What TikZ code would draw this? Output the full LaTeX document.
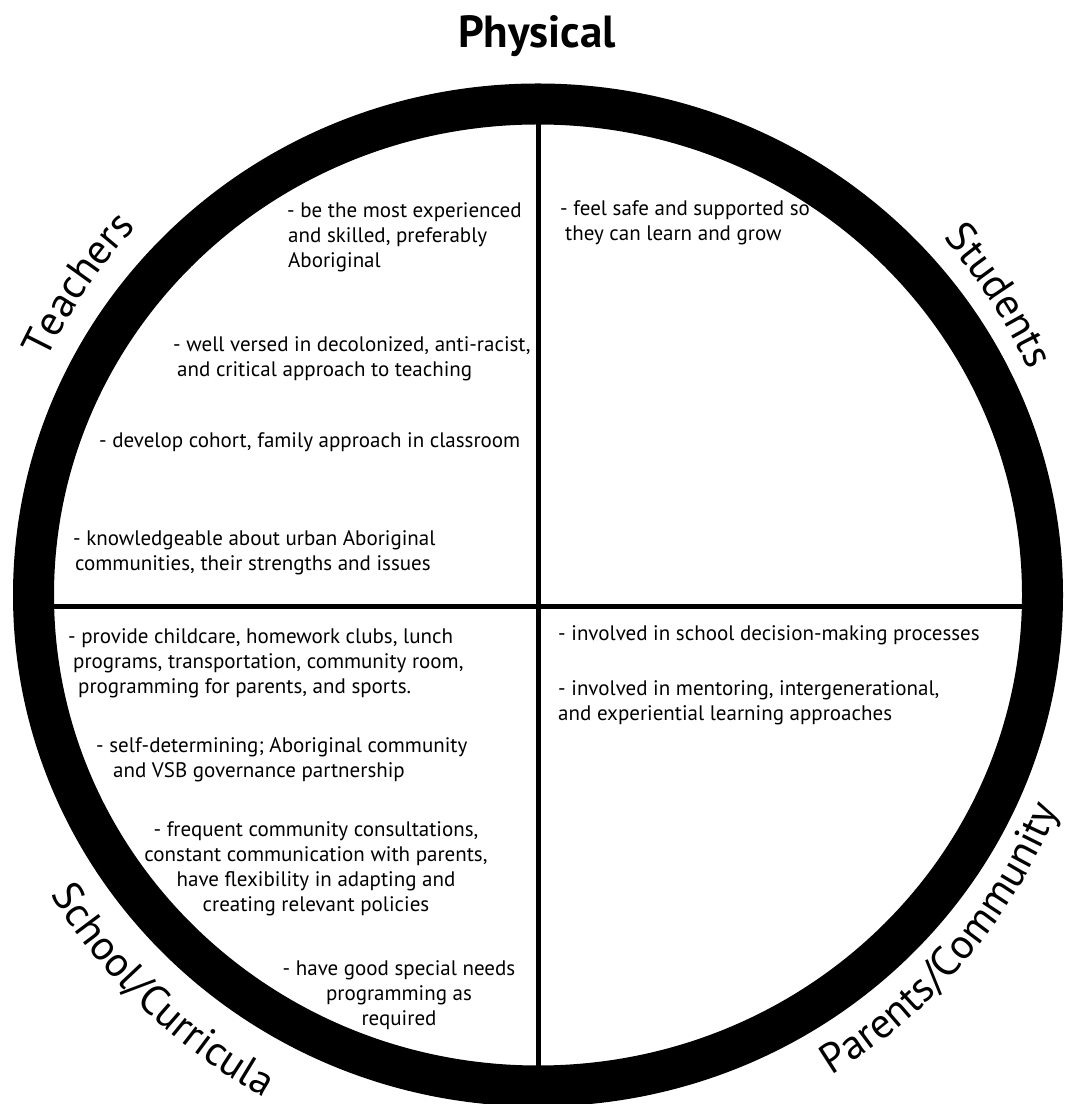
\documentclass[tikz,border=0pt]{standalone}
\usepackage{fontspec}
\setmainfont{PT Sans}
\usetikzlibrary{decorations.text}

\tikzset{
  note/.style={font=\fontsize{21}{25}\selectfont, inner sep=0pt},
  heading/.style={font=\fontsize{45}{50}\selectfont\bfseries, inner sep=0pt},
  divider/.style={line width=5pt},
  ring/.style={line width=41pt},
  arclabel/.style={decorate, decoration={text along path, text align=center,
    text={|\fontsize{42}{46}\selectfont|#1}}}
}

\begin{document}
\begin{tikzpicture}[x=1pt,y=1pt]
\useasboundingbox (0,0) rectangle (1070,1104);

%%% centre of the wheel
\coordinate (ctr) at (538,509);

%% Quarter dividers
\draw[divider] (538,1000) -- (538,20);
\draw[divider] (30,497) -- (1045,497);

%% Outer ring
\draw[ring] (ctr) ellipse [x radius=504.5, y radius=491];

% PHYSICAL
\node[heading, anchor=base] (physical) at (537,1056) {Physical};

% RING LABELS
\path[arclabel=Teachers] ([shift={(176:545)}]ctr) arc[start angle=176, end angle=116, radius=545];
\path[arclabel=Students] ([shift={(63:540)}]ctr) arc[start angle=63, end angle=3, radius=540];
\path[arclabel=School/Curricula] ([shift={(186:572)}]ctr) arc[start angle=186, end angle=267, radius=572];
\path[arclabel=Parents/Community] ([shift={(-81:563)}]ctr) arc[start angle=-81, end angle=0, radius=563];

% TEACHERS
\node[note, anchor=north west] (tch1) at (287,904.5) {
	\begin{tabular}{@{}l@{}}
	- be the most experienced \\
	\hspace*{1pt}and skilled, preferably \\
	\hspace*{1pt}Aboriginal
	\end{tabular}
};
\node[note, anchor=north west] (tch2) at (173,770.5) {
	\begin{tabular}{@{}l@{}}
	- well versed in decolonized, anti-racist, \\
	\hspace*{4pt}and critical approach to teaching
	\end{tabular}
};
\node[note, anchor=north west] (tch3) at (99,671.5) {- develop cohort, family approach in classroom};
\node[note, anchor=north west] (tch4) at (73,576.5) {
	\begin{tabular}{@{}l@{}}
	- knowledgeable about urban Aboriginal \\
	\hspace*{2pt}communities, their strengths and issues
	\end{tabular}
};

% STUDENTS
\node[note, anchor=north west] (stu1) at (560,906.5) {
	\begin{tabular}{@{}l@{}}
	- feel safe and supported so \\
	\hspace*{5pt}they can learn and grow
	\end{tabular}
};

% SCHOOL/CURRICULA
\node[note, anchor=north west] (sch1) at (68,478.5) {
	\begin{tabular}{@{}l@{}}
	- provide childcare, homework clubs, lunch \\
	\hspace*{5pt}programs, transportation, community room, \\
	\hspace*{10pt}programming for parents, and sports.
	\end{tabular}
};
\node[note, anchor=north west] (sch2) at (96,369.5) {
	\begin{tabular}{@{}l@{}}
	- self-determining; Aboriginal community \\
	\hspace*{17pt}and VSB governance partnership
	\end{tabular}
};
\node[note, anchor=north] (sch3) at (316,285.5) {
	\begin{tabular}{@{}c@{}}
	- frequent community consultations, \\
	constant communication with parents, \\
	have flexibility in adapting and \\
	creating relevant policies
	\end{tabular}
};
\node[note, anchor=north] (sch4) at (399,146.5) {
	\begin{tabular}{@{}c@{}}
	- have good special needs \\
	programming as \\
	required
	\end{tabular}
};

% PARENTS/COMMUNITY
\node[note, anchor=north west] (par1) at (558,478.5) {- involved in school decision-making processes};
\node[note, anchor=north west] (par2) at (558,426.5) {
	\begin{tabular}{@{}l@{}}
	- involved in mentoring, intergenerational, \\
	and experiential learning approaches
	\end{tabular}
};
\end{tikzpicture}
\end{document}
